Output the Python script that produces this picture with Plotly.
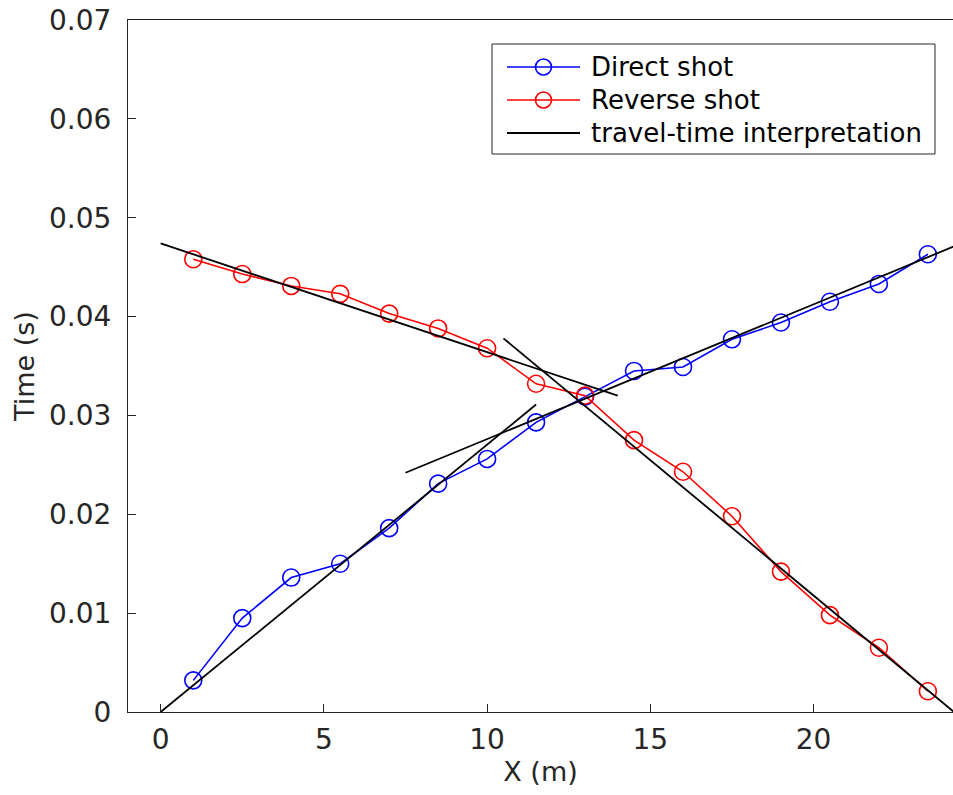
import plotly.graph_objects as go

# ---------------- data ----------------
x_pos = [1, 2.5, 4, 5.5, 7, 8.5, 10, 11.5, 13, 14.5, 16, 17.5, 19, 20.5, 22, 23.5]
direct_t = [0.0032, 0.0095, 0.0136, 0.0150, 0.0186, 0.0231, 0.0256, 0.0293,
            0.0319, 0.0345, 0.0349, 0.0377, 0.0394, 0.0415, 0.0433, 0.0463]
reverse_t = [0.0458, 0.0443, 0.0431, 0.0423, 0.0403, 0.0388, 0.0368, 0.0332,
             0.0320, 0.0275, 0.0243, 0.0198, 0.0142, 0.0098, 0.0065, 0.0021]

# travel-time interpretation segments (x endpoints, t endpoints)
interp_direct1_x = [0, 11.5]
interp_direct1_t = [0.0, 0.0311]
interp_direct2_x = [7.5, 24.3]
interp_direct2_t = [0.0242, 0.0471]
interp_reverse1_x = [10.5, 24.3]
interp_reverse1_t = [0.0378, 0.0]
interp_reverse2_x = [0, 14.0]
interp_reverse2_t = [0.0474, 0.0320]

x_ticks = [0, 5, 10, 15, 20]
y_ticks = [0, 0.01, 0.02, 0.03, 0.04, 0.05, 0.06, 0.07]
y_tick_text = ["0", "0.01", "0.02", "0.03", "0.04", "0.05", "0.06", "0.07"]

legend_labels = ["Direct shot", "Reverse shot", "travel-time interpretation"]

# ---------------- figure ----------------
W, H = 953, 795
L, R, T, B = 128, 0, 20, 83
FONT = "DejaVu Sans"
AX = "#262626"

fig = go.Figure()

marker_style = dict(symbol="circle-open", size=17, line=dict(width=1.6))

fig.add_trace(go.Scatter(x=x_pos, y=direct_t, mode="lines+markers",
                         line=dict(color="#0000FF", width=1.6),
                         marker=dict(color="#0000FF", **marker_style),
                         name=legend_labels[0], showlegend=False))
fig.add_trace(go.Scatter(x=x_pos, y=reverse_t, mode="lines+markers",
                         line=dict(color="#FF0000", width=1.6),
                         marker=dict(color="#FF0000", **marker_style),
                         name=legend_labels[1], showlegend=False))
for sx, st in [(interp_direct1_x, interp_direct1_t),
               (interp_direct2_x, interp_direct2_t),
               (interp_reverse1_x, interp_reverse1_t),
               (interp_reverse2_x, interp_reverse2_t)]:
    fig.add_trace(go.Scatter(x=sx, y=st, mode="lines",
                             line=dict(color="black", width=1.8),
                             name=legend_labels[2], showlegend=False))

# ---------------- manual legend (MATLAB style) ----------------
pw, ph = W - L - R, H - T - B


def px2paper(xp, yp):
    return (xp - L) / pw, (H - B - yp) / ph


bx0, by0 = px2paper(492, 44)
bx1, by1 = px2paper(935, 154)
fig.add_shape(type="rect", xref="paper", yref="paper", x0=bx0, x1=bx1, y0=by1, y1=by0,
              line=dict(color=AX, width=1), fillcolor="white", layer="above")

leg_colors = ["#0000FF", "#FF0000", "black"]
leg_rows = [67, 100, 133]
for lbl, col, yr in zip(legend_labels, leg_colors, leg_rows):
    sx0, sy = px2paper(507, yr)
    sx1, _ = px2paper(580, yr)
    fig.add_shape(type="line", xref="paper", yref="paper", x0=sx0, x1=sx1, y0=sy, y1=sy,
                  line=dict(color=col, width=1.8 if col == "black" else 1.6), layer="above")
    if col != "black":
        cx, cy = px2paper(543.5, yr)
        fig.add_shape(type="circle", xref="paper", yref="paper",
                      xsizemode="pixel", ysizemode="pixel",
                      xanchor=cx, yanchor=cy, x0=-8, x1=8, y0=-8, y1=8,
                      line=dict(color=col, width=1.6), fillcolor="rgba(0,0,0,0)", layer="above")
    tx, ty = px2paper(589, yr)
    fig.add_annotation(x=tx, y=ty, xref="paper", yref="paper", text=lbl,
                       showarrow=False, xanchor="left", yanchor="middle",
                       font=dict(family=FONT, size=26, color="black"))

axis_common = dict(showline=True, linecolor=AX, linewidth=1, ticks="inside",
                   ticklen=8, tickwidth=1, tickcolor=AX, showgrid=False, zeroline=False,
                   ticklabeloverflow="allow",
                   tickfont=dict(family=FONT, size=28, color=AX))

fig.update_xaxes(range=[-1, 24.27], tickvals=x_ticks, mirror=True,
                 ticklabelstandoff=2,
                 title=dict(text="X (m)", font=dict(family=FONT, size=27, color=AX), standoff=2),
                 **axis_common)
fig.update_yaxes(range=[0, 0.07], tickvals=y_ticks, ticktext=y_tick_text, mirror=False,
                 ticklabelstandoff=10,
                 title=dict(text="Time (s)", font=dict(family=FONT, size=27, color=AX), standoff=6),
                 **axis_common)

fig.update_layout(width=W, height=H, margin=dict(l=L, r=R, t=T, b=B, pad=0),
                  plot_bgcolor="white", paper_bgcolor="white", showlegend=False)

fig.write_html("out.html",
               config={"displayModeBar": False},
               post_script="document.body.style.margin='0';document.body.style.overflow='hidden';")
